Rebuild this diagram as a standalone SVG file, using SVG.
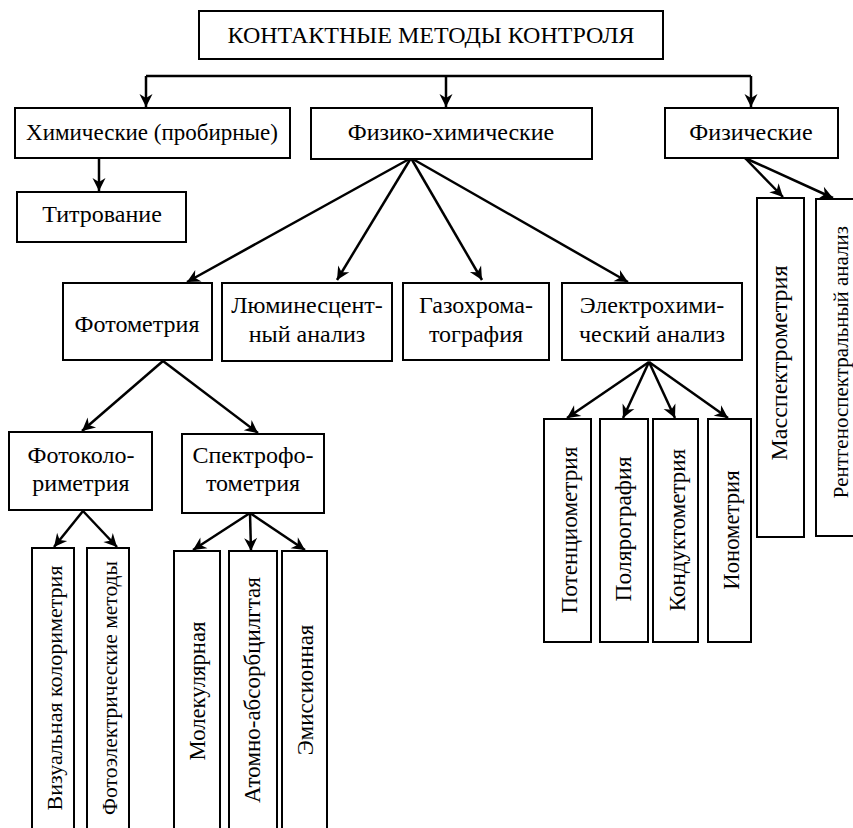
<svg xmlns="http://www.w3.org/2000/svg" width="853" height="828" viewBox="0 0 853 828">
<style>
.b{fill:#fff;stroke:#000;stroke-width:2}
.t{font-family:'Liberation Serif','Times New Roman',serif;font-size:24px;fill:#000;text-anchor:middle}
.c{fill:none;stroke:#000;stroke-width:2.5;marker-end:url(#ah)}
.l{fill:none;stroke:#000;stroke-width:2.5}
</style>
<defs>
<marker id="ah" markerUnits="userSpaceOnUse" markerWidth="16" markerHeight="14" refX="14" refY="7" orient="auto" viewBox="0 0 16 14">
<path d="M14,7 L1,0.5 L5,7 L1,13.5 z" fill="#000"/>
</marker>
</defs>
<rect width="853" height="828" fill="#fff"/>
<g id="connectors">
<path class="l" d="M146,76 H751"/>
<path class="c" d="M146,76 V107"/>
<path class="c" d="M446,76 V107"/>
<path class="c" d="M751,76 V107"/>
<path class="c" d="M99,158 V191"/>
<path class="c" d="M411,158 L187,282"/>
<path class="c" d="M411,158 L337,280"/>
<path class="c" d="M411,158 L482,280"/>
<path class="c" d="M411,158 L628,282"/>
<path class="c" d="M163,361 L82,431"/>
<path class="c" d="M163,361 L258,433"/>
<path class="c" d="M83,511 L54,547"/>
<path class="c" d="M83,511 L117,547"/>
<path class="c" d="M250,513 L193,550"/>
<path class="c" d="M250,513 L251,551"/>
<path class="c" d="M250,513 L305,550"/>
<path class="c" d="M649,362 L567,418"/>
<path class="c" d="M649,362 L623,418"/>
<path class="c" d="M649,362 L675,418"/>
<path class="c" d="M649,362 L728,418"/>
<path class="c" d="M745,158 L783,197"/>
<path class="c" d="M745,158 L833,198"/>
</g>
<g id="root"><rect class="b" x="199" y="11" width="464" height="48"/><text class="t" x="431" y="43">КОНТАКТНЫЕ МЕТОДЫ КОНТРОЛЯ</text></g>
<g id="chem"><rect class="b" x="15" y="108" width="275" height="50"/><text class="t" x="152" y="140" style="font-size:23px">Химические (пробирные)</text></g>
<g id="physchem"><rect class="b" x="311" y="108" width="281" height="51"/><text class="t" x="451" y="140">Физико-химические</text></g>
<g id="phys"><rect class="b" x="665" y="108" width="173" height="50"/><text class="t" x="751" y="140">Физические</text></g>
<g id="titr"><rect class="b" x="17" y="192" width="169" height="50"/><text class="t" x="102" y="222">Титрование</text></g>
<g id="photometry"><rect class="b" x="63" y="283" width="149" height="77"/><text class="t" x="137" y="332">Фотометрия</text></g>
<g id="lumin"><rect class="b" x="222" y="283" width="170" height="78"/><text class="t" x="307" y="313">Люминесцент-</text><text class="t" x="307" y="342">ный анализ</text></g>
<g id="gas"><rect class="b" x="403" y="283" width="146" height="77"/><text class="t" x="476" y="313">Газохрома-</text><text class="t" x="476" y="342">тография</text></g>
<g id="electro"><rect class="b" x="562" y="283" width="180" height="77"/><text class="t" x="652" y="313">Электрохими-</text><text class="t" x="652" y="342">ческий анализ</text></g>
<g id="photocol"><rect class="b" x="9" y="432" width="143" height="78"/><text class="t" x="81" y="463">Фотоколо-</text><text class="t" x="81" y="491">риметрия</text></g>
<g id="spectro"><rect class="b" x="182" y="434" width="142" height="79"/><text class="t" x="253" y="463">Спектрофо-</text><text class="t" x="253" y="491">тометрия</text></g>
<g id="visual"><rect class="b" x="32" y="548" width="42" height="290"/><text class="t" style="font-size:22px" transform="translate(62,688) rotate(-90)">Визуальная колориметрия</text></g>
<g id="photoel"><rect class="b" x="87" y="548" width="42" height="290"/><text class="t" style="font-size:21.5px" transform="translate(117,688) rotate(-90)">Фотоэлектрические методы</text></g>
<g id="molec"><rect class="b" x="174" y="551" width="46" height="290"/><text class="t" style="font-size:22.7px" transform="translate(205,691) rotate(-90)">Молекулярная</text></g>
<g id="atom"><rect class="b" x="229" y="551" width="48" height="290"/><text class="t" style="font-size:23px" transform="translate(260,690) rotate(-90)">Атомно-абсорбцилгтая</text></g>
<g id="emis"><rect class="b" x="282" y="551" width="45" height="290"/><text class="t" style="font-size:22.8px" transform="translate(313,690) rotate(-90)">Эмиссионная</text></g>
<g id="potent"><rect class="b" x="544" y="419" width="47" height="223"/><text class="t" style="font-size:23.2px" transform="translate(577,530) rotate(-90)">Потенциометрия</text></g>
<g id="polar"><rect class="b" x="600" y="419" width="48" height="223"/><text class="t" style="font-size:23.5px" transform="translate(631,529) rotate(-90)">Полярография</text></g>
<g id="conduct"><rect class="b" x="653" y="419" width="45" height="223"/><text class="t" style="font-size:23px" transform="translate(685,530) rotate(-90)">Кондуктометрия</text></g>
<g id="ionom"><rect class="b" x="708" y="419" width="43" height="223"/><text class="t" style="font-size:22.7px" transform="translate(739,530) rotate(-90)">Ионометрия</text></g>
<g id="mass"><rect class="b" x="757" y="198" width="47" height="339"/><text class="t" transform="translate(787,363) rotate(-90)">Масспектрометрия</text></g>
<g id="xray"><rect class="b" x="816" y="199" width="45" height="337"/><text class="t" style="font-size:21px" transform="translate(848,362) rotate(-90)">Рентгеноспектральный анализ</text></g>
</svg>
